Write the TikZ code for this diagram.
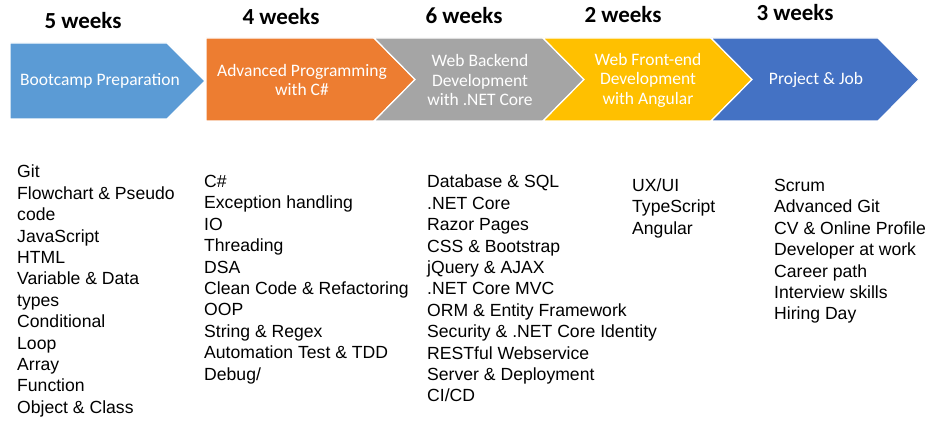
\documentclass[tikz,border=0pt]{standalone}
\usepackage{fontspec}
\setmainfont{Liberation Sans}
\newfontfamily\carlito{Carlito}

\definecolor{prepblue}{HTML}{5B9BD5}
\definecolor{progorange}{HTML}{ED7D31}
\definecolor{backgray}{HTML}{A5A5A5}
\definecolor{frontyellow}{HTML}{FFC000}
\definecolor{jobblue}{HTML}{4472C4}

\tikzstyle{weeks} = [inner sep=0pt, font=\carlito\bfseries\fontsize{23}{26}\selectfont]
\tikzstyle{phase} = [draw=white, line width=1.2pt]
\tikzstyle{phasetext} = [inner sep=0pt, text=white, align=center, font=\carlito\fontsize{17.5}{19.5}\selectfont]
\tikzstyle{topics} = [inner sep=0pt, anchor=north west, align=left, font=\fontsize{17.6}{21.4}\selectfont]

\begin{document}
\begin{tikzpicture}[x=1pt, y=-1pt]
	\useasboundingbox (0,0) rectangle (937,422);

	% phases
	\filldraw [phase, fill=prepblue] (10,43) -- (167,43) -- (205,81) -- (167,119) -- (10,119) -- cycle;
	\filldraw [phase, fill=progorange] (206,38) -- (374,38) -- (415,79.5) -- (374,121) -- (206,121) -- cycle;
	\filldraw [phase, fill=backgray] (374,38) -- (543,38) -- (584,79.5) -- (543,121) -- (374,121) -- (415,79.5) -- cycle;
	\filldraw [phase, fill=frontyellow] (543,38) -- (711,38) -- (752,79.5) -- (711,121) -- (543,121) -- (584,79.5) -- cycle;
	\filldraw [phase, fill=jobblue] (711,38) -- (878,38) -- (919,79.5) -- (878,121) -- (711,121) -- (752,79.5) -- cycle;

	\node (prep) [phasetext] at (100,81) {Bootcamp Preparation};
	\node (prog) [phasetext] at (302,80) {Advanced Programming\\with C\#};
	\node (back) [phasetext] at (480,80) {Web Backend\\Development\\with .NET Core};
	\node (front) [phasetext] at (648,80) {Web Front-end\\Development\\with Angular};
	\node (job) [phasetext] at (816,80) {Project \& Job};

	% durations
	\node (prepweeks) [weeks] at (83,20.8) {5 weeks};
	\node (progweeks) [weeks] at (281,17) {4 weeks};
	\node (backweeks) [weeks] at (464,15.5) {6 weeks};
	\node (frontweeks) [weeks] at (623,14.2) {2 weeks};
	\node (jobweeks) [weeks] at (795,12.8) {3 weeks};

	% topics
	\node (preptopics) [topics] at (17,165) {Git\\Flowchart \& Pseudo\\code\\JavaScript\\HTML\\Variable \& Data\\types\\Conditional\\Loop\\Array\\Function\\Object \& Class};
	\node (progtopics) [topics] at (204,175) {C\#\\Exception handling\\IO\\Threading\\DSA\\Clean Code \& Refactoring\\OOP\\String \& Regex\\Automation Test \& TDD\\Debug/};
	\node (backtopics) [topics] at (427,175) {Database \& SQL\\.NET Core\\Razor Pages\\CSS \& Bootstrap\\jQuery \& AJAX\\.NET Core MVC\\ORM \& Entity Framework\\Security \& .NET Core Identity\\RESTful Webservice\\Server \& Deployment\\CI/CD};
	\node (fronttopics) [topics] at (632,178.5) {UX/UI\\TypeScript\\Angular};
	\node (jobtopics) [topics] at (774,179) {Scrum\\Advanced Git\\CV \& Online Profile\\Developer at work\\Career path\\Interview skills\\Hiring Day};
\end{tikzpicture}
\end{document}
